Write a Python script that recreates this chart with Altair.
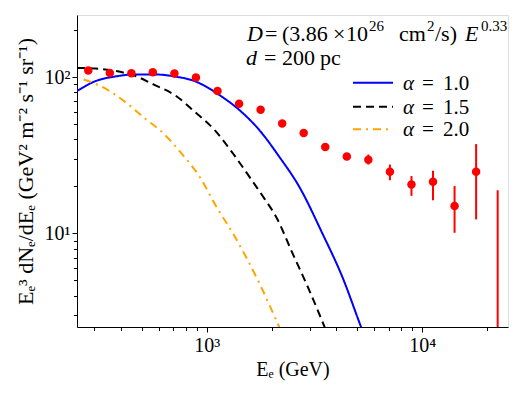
import altair as alt
import pandas as pd

# ---- data ----
energy = [282, 355, 447, 562, 708, 891, 1122, 1413, 1778, 2239, 2818, 3548,
          4467, 5623, 7079, 8913, 11220, 14125, 17783, 22387]
flux = [110.4, 106.5, 106.1, 107.6, 105.6, 99.5, 81.7, 67.5, 61.8, 50.5, 44.0, 35.7,
        31.1, 29.6, 24.8, 20.6, 21.4, 15.0, 24.8, 2.0]
flux_lo = [110.4, 106.5, 106.1, 107.6, 105.6, 99.5, 81.7, 67.5, 61.8, 50.5, 44.0, 35.7,
           31.1, 27.6, 21.9, 17.4, 16.3, 10.1, 12.3, 0.5]
flux_hi = [110.4, 106.5, 106.1, 107.6, 105.6, 99.5, 81.7, 67.5, 61.8, 50.5, 44.0, 35.7,
           31.1, 32.0, 27.6, 23.3, 25.2, 20.1, 37.3, 18.9]

a10_E = [250.5, 304, 376, 465, 575, 712, 880, 1089, 1148, 1420, 1756, 2173, 2687, 3441, 4256, 5207, 5652]
a10_V = [81.7, 94.3, 101.0, 104.1, 104.1, 101.0, 94.3, 80.5, 76.7, 61.5, 45.8, 30.9, 19.9, 10.0, 5.28, 2.51, 1.87]
a15_E = [250.5, 304, 376, 465, 575, 712, 880, 1089, 1323, 1579, 1852, 2097, 2502, 2988, 3467, 3695]
a15_V = [114.7, 113.7, 109.7, 101.9, 88.9, 76.7, 60.0, 45.8, 32.5, 23.0, 16.7, 12.8, 7.45, 4.34, 2.66, 2.14]
a20_E = [268.7, 327, 418, 517, 618, 764, 928, 1109, 1323, 1756, 2173, 2291]
a20_V = [96.7, 86.7, 69.5, 54.4, 44.7, 32.5, 23.0, 14.8, 10.0, 4.79, 2.51, 2.14]

series_names = ["α = 1.0", "α = 1.5", "α = 2.0"]
series_colors = ["#0000ff", "#000000", "#ffa500"]
series_dashes = [[1, 0], [8, 5], [8, 5, 2, 5]]

x_ticks = [300, 400, 500, 600, 700, 800, 900, 1000, 2000, 3000, 4000, 5000, 6000,
           7000, 8000, 9000, 10000, 20000]
y_ticks = [3, 4, 5, 6, 7, 8, 9, 10, 20, 30, 40, 50, 60, 70, 80, 90, 100, 200]

FONT = "Liberation Serif"

pts = pd.DataFrame({"E": energy, "F": flux, "lo": flux_lo, "hi": flux_hi})
rows = []
for name, es, vs in zip(series_names, [a10_E, a15_E, a20_E], [a10_V, a15_V, a20_V]):
    for i, (e, v) in enumerate(zip(es, vs)):
        rows.append({"E": e, "V": v, "s": name, "o": i})
curves = pd.DataFrame(rows)

xscale = alt.Scale(type="log", domain=[250, 25000], nice=False)
yscale = alt.Scale(type="log", domain=[2.52, 250], nice=False)

xaxis = alt.Axis(
    values=x_ticks,
    labelExpr="datum.value == 1000 ? '10³' : (datum.value == 10000 ? '10⁴' : '')",
    tickSize={"condition": {"test": "datum.value == 1000 || datum.value == 10000", "value": 5}, "value": 3.5},
    labelOverlap=False, labelPadding=3, labelFont=FONT, labelFontSize=20, labelColor="black",
    grid=False, domainColor="black", tickColor="black",
    title="Eₑ (GeV)", titleFont=FONT, titleFontSize=20, titleFontWeight="normal",
    titleColor="black", titleY=42, titleBaseline="middle",
)
yaxis = alt.Axis(
    values=y_ticks,
    labelExpr="datum.value == 10 ? '10¹' : (datum.value == 100 ? '10²' : '')",
    tickSize={"condition": {"test": "datum.value == 10 || datum.value == 100", "value": 5}, "value": 3.5},
    labelOverlap=False, labelPadding=2, labelFont=FONT, labelFontSize=20, labelColor="black",
    grid=False, domainColor="black", tickColor="black",
    title="Eₑ³ dNₑ/dEₑ (GeV² m⁻² s⁻¹ sr⁻¹)", titleFont=FONT, titleFontSize=22,
    titleFontWeight="normal", titleColor="black", titleX=-52, titleBaseline="middle",
)

lines = alt.Chart(curves).mark_line(strokeWidth=2, clip=True, interpolate="monotone").encode(
    x=alt.X("E:Q", scale=xscale, axis=xaxis),
    y=alt.Y("V:Q", scale=yscale, axis=yaxis),
    color=alt.Color("s:N", scale=alt.Scale(domain=series_names, range=series_colors), legend=None),
    strokeDash=alt.StrokeDash("s:N", scale=alt.Scale(domain=series_names, range=series_dashes), legend=None),
    detail="s:N",
    order="o:Q",
)

errs = alt.Chart(pts).mark_rule(color="#ff0000", strokeWidth=2, clip=True).encode(
    x="E:Q", y="lo:Q", y2="hi:Q"
)
dots = alt.Chart(pts).mark_circle(color="#ff0000", size=72, opacity=1, clip=True).encode(
    x="E:Q", y="F:Q"
)

dummy = pd.DataFrame({"a": [0]})


def txt(s, x, y, size, italic=False):
    kw = dict(text=s, font=FONT, fontSize=size, align="left", baseline="alphabetic", color="black")
    if italic:
        kw["fontStyle"] = "italic"
    return alt.Chart(dummy).mark_text(**kw).encode(x=alt.value(x), y=alt.value(y))


ann = [
    txt("D", 170, 26, 22, True),
    txt("=", 188, 26, 22),
    txt("(3.86", 205, 26, 22),
    txt("×", 256, 26, 22),
    txt("10", 269, 26, 22),
    txt("26", 292, 16, 15),
    txt("cm", 322, 26, 22),
    txt("2", 350, 16, 15),
    txt("/s)", 358, 26, 22),
    txt("E", 388, 26, 22, True),
    txt("0.33", 404, 16, 15),
    txt("d", 169, 50, 22, True),
    txt("=", 187, 50, 22),
    txt("200", 205, 50, 22),
    txt("pc", 243, 50, 22),
]

legend_y = [67.7, 91.7, 114.3]
leg = []
for name, col, dash, ly in zip(["1.0", "1.5", "2.0"], series_colors, series_dashes, legend_y):
    leg.append(alt.Chart(dummy).mark_rule(color=col, strokeDash=dash, strokeWidth=2).encode(
        x=alt.value(276), x2=alt.value(316), y=alt.value(ly)))
    leg.append(txt("α", 326, ly + 7, 21, True))
    leg.append(txt("=", 345, ly + 7, 21))
    leg.append(txt(name, 366, ly + 7, 21))

chart = alt.layer(lines, errs, dots, *ann, *leg).properties(
    width=431, height=312,
    autosize=alt.AutoSizeParams(type="none"),
    padding={"left": 69, "top": 7, "right": 10, "bottom": 55},
).configure_view(stroke="black", strokeWidth=1.2).configure(background="white")

chart.save("out.html", embed_options={"renderer": "svg", "actions": False})
